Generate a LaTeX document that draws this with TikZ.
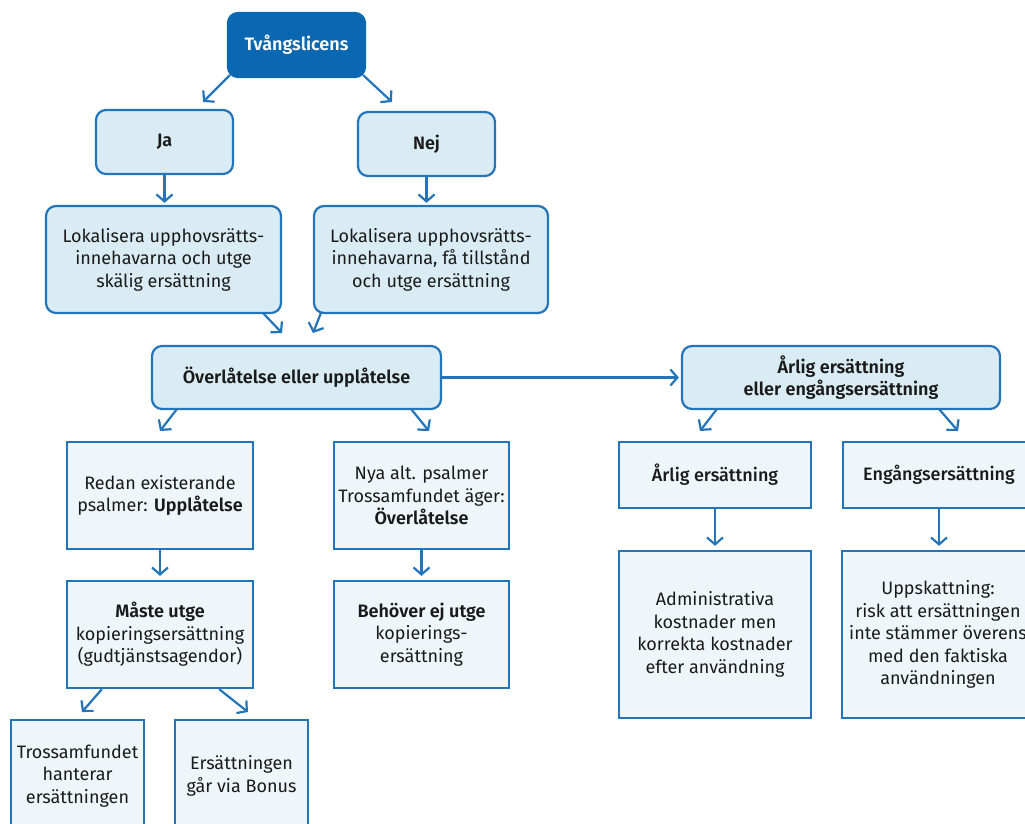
\documentclass[tikz,border=0pt]{standalone}
\usepackage{fontspec}
\setmainfont{Fira Sans}[BoldFont={Fira Sans SemiBold}]
\newfontfamily\medfont{Fira Sans Medium}
\usetikzlibrary{arrows.meta,calc}
\definecolor{dblue}{HTML}{0A67B1}
\definecolor{lblue}{HTML}{2474BA}
\definecolor{rfill}{HTML}{D9ECF4}
\definecolor{sfill}{HTML}{EFF6FA}
\definecolor{txt}{HTML}{1A1A1A}
\tikzset{
  base/.style={draw=lblue, line width=2.2pt, align=center, text=txt, inner sep=2pt,
    font=\fontsize{18}{22.5}\selectfont},
  rbox/.style={base, fill=rfill, rounded corners=10pt},
  topbox/.style={base, fill=dblue, draw=dblue, rounded corners=10pt, text=white},
  sbox/.style={base, fill=sfill},
  arr/.style={draw=lblue, line width=2.2pt, -{Straight Barb[length=7pt,width=16pt,line width=2.2pt]}},
}
\begin{document}
\begin{tikzpicture}[x=1pt,y=-1pt]
\useasboundingbox (0,0) rectangle (1025,823);
\clip (0,0) rectangle (1025,823);
% nodes
\node[topbox, minimum width=137, minimum height=64] (tv) at (296.5,45) {\bfseries Tvångslicens};
\node[rbox, minimum width=137, minimum height=64] (ja) at (164.5,142) {\bfseries Ja};
\node[rbox, minimum width=137, minimum height=64] (nej) at (426.5,144) {\bfseries Nej};
\node[rbox, minimum width=235, minimum height=107] (lok1) at (163.5,259.5) {Lokalisera upphovsrätts-\\innehavarna och utge\\skälig ersättning};
\node[rbox, minimum width=234, minimum height=107] (lok2) at (431,259.5) {Lokalisera upphovsrätts-\\innehavarna, få tillstånd\\och utge ersättning};
\node[rbox, minimum width=289, minimum height=63] (over) at (296.5,377.5) {\bfseries Överlåtelse eller upplåtelse};
\node[rbox, minimum width=318, minimum height=63] (arl2) at (841,377.5) {\bfseries Årlig ersättning\\\bfseries eller engångsersättning};
\node[sbox, minimum width=186, minimum height=107] (redan) at (160,495.5) {Redan existerande\\psalmer: \textbf{Upplåtelse}};
\node[sbox, minimum width=175, minimum height=107] (nya) at (421.5,495.5) {Nya alt. psalmer\\Trossamfundet äger:\\\textbf{Överlåtelse}};
\node[sbox, minimum width=186, minimum height=107] (maste) at (160,634.5) {\textbf{Måste utge}\\kopieringsersättning\\(gudtjänstsagendor)};
\node[sbox, minimum width=175, minimum height=107] (beh) at (421.5,634.5) {\textbf{Behöver ej utge}\\kopierings-\\ersättning};
\node[sbox, minimum width=133, minimum height=112] (tross) at (77.5,776) {Trossamfundet\\hanterar\\ersättningen};
\node[sbox, minimum width=133, minimum height=112] (ers) at (241.5,776) {Ersättningen\\går via Bonus};
\node[sbox, minimum width=192, minimum height=66] (arlig) at (715,475) {\medfont Årlig ersättning};
\node[sbox, minimum width=192, minimum height=66] (eng) at (939,475) {\medfont Engångsersättning};
\node[sbox, minimum width=192, minimum height=167] (admin) at (715,634.5) {Administrativa\\kostnader men\\korrekta kostnader\\efter användning};
\node[sbox, minimum width=192, minimum height=167] (upp) at (938,634.5) {Uppskattning:\\risk att ersättningen\\inte stämmer överens\\med den faktiska\\användningen};
% free ends
\coordinate (e1) at (203,102);
\coordinate (e2) at (392,102);
\coordinate (e3) at (282,333);
\coordinate (e4) at (313,333);
\coordinate (e5) at (160,431);
\coordinate (e6) at (429,431);
\coordinate (e7) at (700,431);
\coordinate (e8) at (958,431);
\coordinate (e9) at (82,712);
\coordinate (e10) at (248,712);
% connectors
\draw[arr] ([shift={(3,-3)}]tv.south west) -- (e1);
\draw[arr] ([shift={(-3,-3)}]tv.south east) -- (e2);
\draw[arr, shorten >=2pt] (ja.south) -- (ja.south |- lok1.north);
\draw[arr, shorten >=2pt] (nej.south) -- (nej.south |- lok2.north);
\draw[arr] ([shift={(-19,-1)}]lok1.south east) -- (e3);
\draw[arr] ([shift={(8,-1)}]lok2.south west) -- (e4);
\draw[arr, shorten >=2pt] (over.east) -- (arl2.west);
\draw[arr] ([shift={(26,-1)}]over.south west) -- (e5);
\draw[arr] ([shift={(-31,-1)}]over.south east) -- (e6);
\draw[arr] ([shift={(36,-1)}]arl2.south west) -- (e7);
\draw[arr] ([shift={(-62,-1)}]arl2.south east) -- (e8);
\draw[arr, shorten >=4pt] (redan.south) -- (maste.north);
\draw[arr, shorten >=4pt] (nya.south) -- (beh.north);
\draw[arr] ([shift={(36,0)}]maste.south west) -- (e9);
\draw[arr] ([shift={(-35,0)}]maste.south east) -- (e10);
\draw[arr, shorten >=4pt] (arlig.south) -- (admin.north);
\draw[arr, shorten >=4pt] (eng.south) -- (eng.south |- upp.north);
\end{tikzpicture}
\end{document}
